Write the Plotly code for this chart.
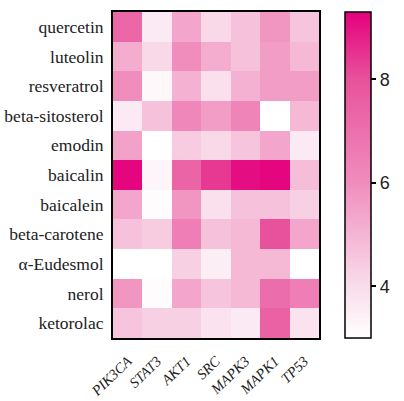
import plotly.graph_objects as go

# Docking scores of compounds (rows) against target proteins (columns)
compounds = ["quercetin", "luteolin", "resveratrol", "beta-sitosterol", "emodin",
             "baicalin", "baicalein", "beta-carotene", "α-Eudesmol", "nerol", "ketorolac"]
targets = ["PIK3CA", "STAT3", "AKT1", "SRC", "MAPK3", "MAPK1", "TP53"]

quercetin = [7.3, 3.6, 5.4, 4.1, 4.7, 5.8, 4.6]
luteolin = [5.2, 4.1, 6.0, 5.2, 4.7, 5.6, 4.9]
resveratrol = [6.0, 3.2, 5.1, 3.9, 5.1, 5.6, 5.6]
beta_sitosterol = [3.6, 4.7, 6.2, 5.6, 6.3, 3.0, 4.9]
emodin = [5.5, 3.0, 4.4, 4.1, 4.6, 5.4, 3.6]
baicalin = [9.2, 3.3, 7.4, 8.4, 9.1, 9.2, 4.8]
baicalein = [5.4, 3.1, 5.8, 3.9, 4.7, 4.7, 4.3]
beta_carotene = [4.7, 4.4, 6.5, 4.7, 4.9, 8.0, 5.4]
alpha_eudesmol = [3.0, 3.0, 4.3, 3.5, 4.9, 4.9, 3.0]
nerol = [5.8, 3.1, 5.4, 4.6, 4.9, 7.1, 6.5]
ketorolac = [4.6, 4.3, 4.3, 3.8, 3.6, 7.5, 3.8]

z = [quercetin, luteolin, resveratrol, beta_sitosterol, emodin, baicalin,
     baicalein, beta_carotene, alpha_eudesmol, nerol, ketorolac]

colorbar_ticks = [4, 6, 8]

fig = go.Figure(go.Heatmap(
    z=z,
    x=targets,
    y=compounds,
    zmin=3.0,
    zmax=9.3,
    colorscale=[[0, "#FFFFFF"], [0.16, "#F9DCEA"], [0.476, "#F08DBD"],
                [0.794, "#E8529C"], [1, "#E5007D"]],
    xgap=0, ygap=0,
    colorbar=dict(
        x=1.128, xanchor="left",
        y=0.5, yanchor="middle",
        len=1.0, lenmode="fraction",
        thickness=26,
        outlinewidth=1.5, outlinecolor="black",
        tickvals=colorbar_ticks,
        ticks="outside", ticklen=5, tickwidth=1.5, tickcolor="black",
        tickfont=dict(family="Liberation Sans", size=18, color="#222"),
        ypad=0, xpad=0,
    ),
))

fig.update_xaxes(
    tickvals=targets,
    ticktext=[f"<i>{t}</i>" for t in targets],
    tickangle=-44,
    tickfont=dict(family="Liberation Serif", size=14.5, color="#222"),
    showline=True, linewidth=2, linecolor="black", mirror=True,
    ticks="", showgrid=False, ticklabelstandoff=7, automargin=False,
)
fig.update_yaxes(
    autorange="reversed",
    tickfont=dict(family="Liberation Serif", size=17.5, color="#222"),
    showline=True, linewidth=2, linecolor="black", mirror=True,
    ticks="", showgrid=False, ticklabelstandoff=4, automargin=False,
)

fig.update_layout(
    width=404, height=401,
    margin=dict(l=113, r=73, t=12, b=63),
    paper_bgcolor="white",
    plot_bgcolor="white",
)

fig.write_html("out.html")
